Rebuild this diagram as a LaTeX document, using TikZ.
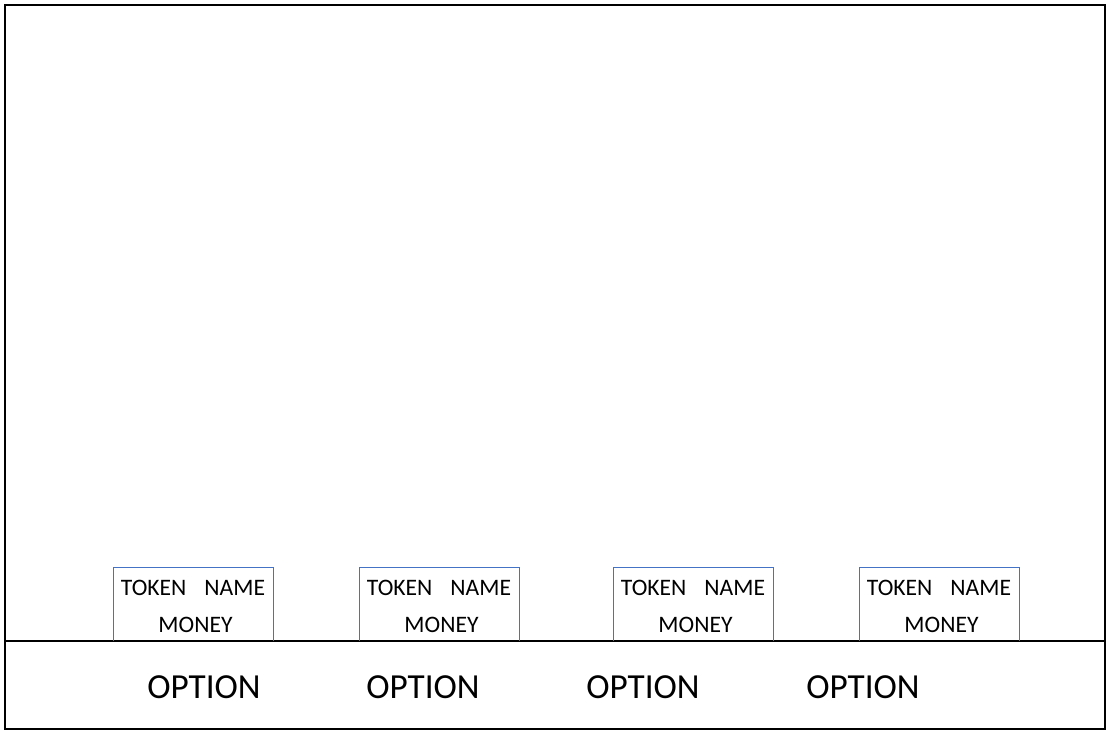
\documentclass[tikz,border=0pt]{standalone}
\usepackage{fontspec}
\setmainfont{Carlito}
\definecolor{boxblue}{HTML}{4472C4}
\tikzset{
  tokbox/.style={draw=boxblue, line width=1.1pt},
  toktext/.style={anchor=base, inner sep=0pt, font=\fontsize{23.6}{28}\selectfont},
  opttext/.style={anchor=base, inner sep=0pt, font=\fontsize{35.2}{40}\selectfont},
  frame/.style={draw=black, line width=2pt},
  divider/.style={draw=black, line width=1.2pt}
}
\begin{document}
\begin{tikzpicture}[x=1pt,y=-1pt]
\useasboundingbox (0,0) rectangle (1112,735);
\draw[frame] (5,5) rectangle (1105,729);
\coordinate (dl) at (5,641);
\coordinate (dr) at (1105,641);
\draw[divider] (dl) -- (dr);
\foreach \i/\l in {1/113,2/359,3/613,4/859}{
  \draw[tokbox] (\l+0.5,641) -- (\l+0.5,567.5) -- (\l+160.5,567.5) -- (\l+160.5,641);
  \node[toktext] (tok\i) at (\l+80,595) {TOKEN\hspace{18pt}NAME};
  \node[toktext] (mon\i) at (\l+82.5,632) {MONEY};
}
\node[opttext] (opt1) at (204,698) {OPTION};
\node[opttext] (opt2) at (423,698) {OPTION};
\node[opttext] (opt3) at (643,698) {OPTION};
\node[opttext] (opt4) at (863,698) {OPTION};
\end{tikzpicture}
\end{document}
